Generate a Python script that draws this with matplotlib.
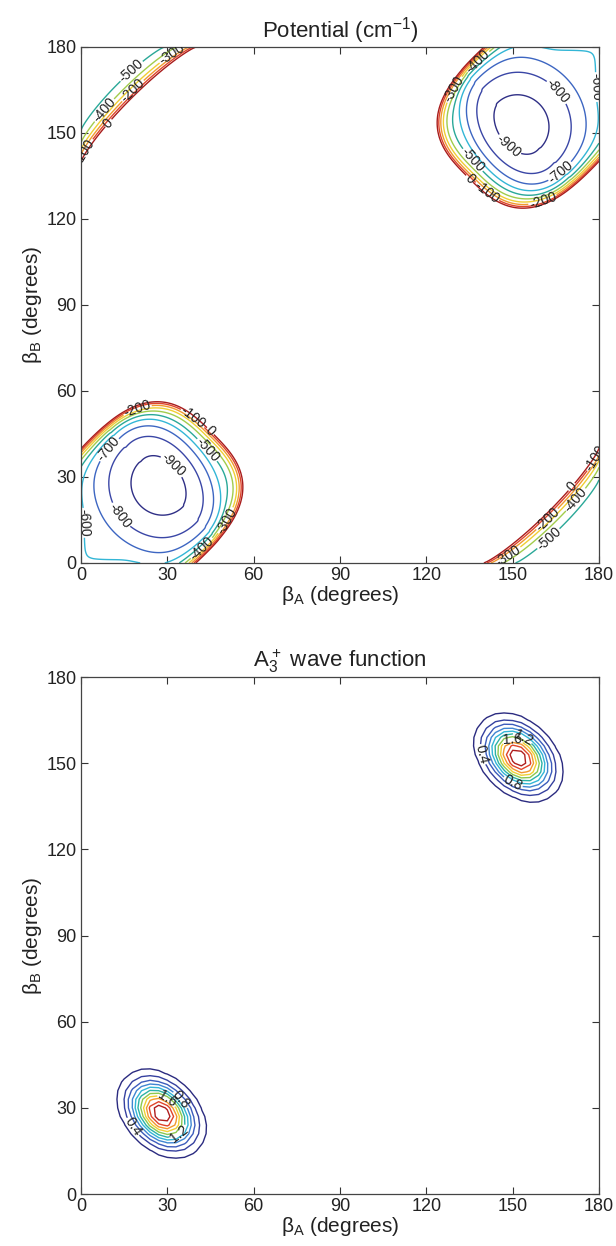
import numpy as np
import matplotlib
matplotlib.use("Agg")
import matplotlib.pyplot as plt

# ---------------- data ----------------
pot_levels = [-900, -800, -700, -600, -500, -400, -300, -200, -100, 0]
pot_colors = ["#2f2f86", "#3a46a6", "#3d66c2", "#33b6d6", "#2aa898",
              "#a2cc4c", "#f0cf34", "#f09a30", "#e0462a", "#a81c1c"]
wf_levels = [0.2, 0.4, 0.6, 0.8, 1.0, 1.2, 1.4, 1.6, 1.8, 2.0, 2.2]
wf_colors = ["#2b2b80", "#35409f", "#3c5cbc", "#3f86d2", "#33b6d6", "#2cb3a6",
             "#8cc850", "#f0d034", "#f2982e", "#e0442a", "#b01e1e"]
wf_label_levels = [0.4, 0.8, 1.2, 1.6]

# potential-surface parameters
well_center = [28.0, 27.5]       # deg, lower-left minimum (upper-right is its inversion image)
well_depth = -950.0              # cm-1
well_axes = [7.5, 10.5, 11.0]    # minor(+), minor(-), major semi-axes of -900 contour
well_tilt = 122.0                # deg, direction of major axis
plateau = [-588.0, -30.0]        # value on the beta=0 edges, extra dip inside
wall_center = [20.0, 20.0]
wall_axes = [36.0, 50.0, 28.3]   # outward, inward, across
wall_height = 612.0
corner_edge = 40.0               # zero contour distance from the (0,180) corner
corner_floor = -590.0

# wave function parameters
wf_centers = [[28.0, 28.0], [152.0, 152.0]]
wf_peak = 2.45
wf_sigma = [7.9, 11.2]           # along diagonal, along anti-diagonal
wf_power = 2.0

ticks = [0, 30, 60, 90, 120, 150, 180]


def v_well(x, y):
    dx = x - well_center[0]
    dy = y - well_center[1]
    t = np.deg2rad(well_tilt)
    dmaj = dx * np.cos(t) + dy * np.sin(t)
    dmin = -dx * np.sin(t) + dy * np.cos(t)
    du = (dx + dy) / np.sqrt(2)
    amin = np.where(du > 0, well_axes[0], well_axes[1])
    rho2 = (dmin / amin) ** 2 + (dmaj / well_axes[2]) ** 2
    vq = well_depth + (-900 - well_depth) * rho2
    f = (1 - np.exp(-x / 2.0)) * (1 - np.exp(-y / 2.0))
    p = plateau[0] + plateau[1] * f
    T = 15.0
    base = -T * np.logaddexp(-vq / T, -p / T)
    wu = (x + y) / np.sqrt(2) - np.sqrt(2) * wall_center[0]
    wv = (y - x) / np.sqrt(2)
    A = np.where(wu > 0, wall_axes[0], wall_axes[1])
    R = (np.abs(wu / A) ** 3 + np.abs(wv / wall_axes[2]) ** 3) ** (1 / 3)
    wall = wall_height * np.exp((R - 1) / 0.09)
    return base + wall


def v_corner(x, y):
    d1 = np.clip(x, 0, None)
    d2 = np.clip(180 - y, 0, None)
    p = 0.85
    L = (d1 ** p + d2 ** p) ** (1 / p)
    return corner_floor - corner_floor * np.exp((L - corner_edge) / 5.85)


g = np.linspace(0, 180, 361)
X, Y = np.meshgrid(g, g)
V = np.minimum.reduce([v_well(X, Y), v_well(180 - X, 180 - Y),
                       v_corner(X, Y), v_corner(180 - X, 180 - Y)])
V = np.minimum(V, 3000)

gw = np.arange(0, 181, 3.0)
XW, YW = np.meshgrid(gw, gw)
PSI = np.zeros_like(XW)
for c in wf_centers:
    du = ((XW - c[0]) + (YW - c[1])) / np.sqrt(2)
    dv = ((YW - c[1]) - (XW - c[0])) / np.sqrt(2)
    rho = np.sqrt((du / wf_sigma[0]) ** 2 + (dv / wf_sigma[1]) ** 2)
    PSI += wf_peak * np.exp(-rho ** wf_power)

# ---------------- drawing ----------------
plt.rcParams["font.family"] = ["Liberation Sans", "DejaVu Sans"]
plt.rcParams["mathtext.default"] = "regular"

fig = plt.figure(figsize=(6.16, 12.46), dpi=100)
ax1 = fig.add_axes([0.1315, 0.5482, 0.8409, 0.4141])
ax2 = fig.add_axes([0.1315, 0.0417, 0.8409, 0.4149])


def style(ax, title):
    ax.set_xlim(0, 180)
    ax.set_ylim(0, 180)
    ax.set_xticks(ticks)
    ax.set_yticks(ticks)
    ax.tick_params(direction="in", top=True, right=True, length=5, width=0.8,
                   labelsize=13, pad=3, colors="#333333", labelcolor="#222222")
    for s in ax.spines.values():
        s.set_color("#444444")
        s.set_linewidth(0.9)
    ax.set_xlabel(r"$\beta_A$ (degrees)", fontsize=15, labelpad=0, color="#222222")
    ax.set_ylabel(r"$\beta_B$ (degrees)", fontsize=15, labelpad=2, color="#222222")
    ax.set_title(title, fontsize=16, pad=7, color="#222222")


cs1 = ax1.contour(X, Y, V, levels=pot_levels, colors=pot_colors, linewidths=1.0)
ax1.clabel(cs1, inline=True, fontsize=10, colors="#222222",
           fmt=lambda v: "%d" % v, inline_spacing=1)
style(ax1, r"Potential (cm$^{-1}$)")

cs2 = ax2.contour(XW, YW, PSI, levels=wf_levels, colors=wf_colors, linewidths=1.0)
ax2.clabel(cs2, levels=wf_label_levels, inline=True, fontsize=10, colors="#222222",
           fmt=lambda v: "%.1f" % v, inline_spacing=1)
style(ax2, r"$A_3^+$ wave function")

fig.savefig("out.png", dpi=100)
